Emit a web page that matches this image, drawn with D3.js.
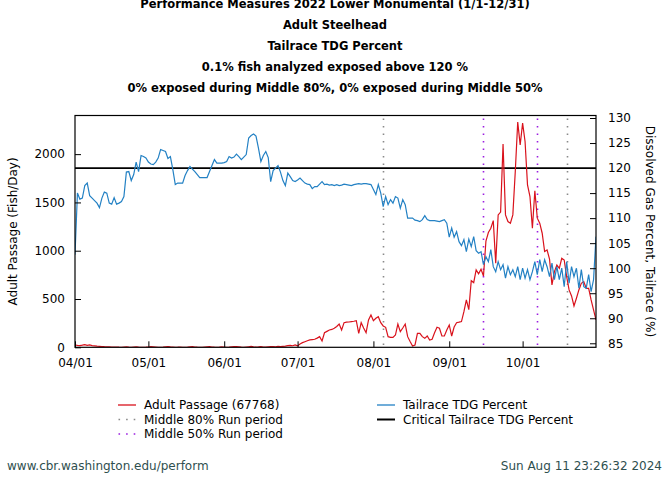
<!DOCTYPE html>
<html><head><meta charset="utf-8">
<script src="https://cdn.jsdelivr.net/npm/d3@7/dist/d3.min.js"></script>
<style>
html,body{margin:0;padding:0;background:#fff;}
svg{display:block;font-family:"DejaVu Sans",sans-serif;}
</style></head>
<body>
<svg id="chart" width="670" height="480"></svg>
<script>
// ---------- data ----------
const startDate = "2022-04-01";   // first day of daily series
const endDate = "2022-10-31";
const titleLines = [
  "Performance Measures 2022 Lower Monumental (1/1-12/31)",
  "Adult Steelhead",
  "Tailrace TDG Percent",
  "0.1% fish analyzed exposed above 120 %",
  "0% exposed during Middle 80%, 0% exposed during Middle 50%"
];
const xTickDates = ["2022-04-01","2022-05-01","2022-06-01","2022-07-01","2022-08-01","2022-09-01","2022-10-01"];
const xTickLabels = ["04/01","05/01","06/01","07/01","08/01","09/01","10/01"];
const leftTicks = [0,500,1000,1500,2000];
const rightTicks = [85,90,95,100,105,110,115,120,125,130];
const criticalTDG = 120;
const middle80 = ["2022-08-05","2022-10-19"];
const middle50 = ["2022-09-15","2022-10-07"];

// Tailrace TDG percent, daily from 04/01
const tailraceTDG = [
102.7,115,113.8,114,116.5,117,114.5,114,113.5,113,112.1,114,115.2,115,113,112.8,114.1,112.8,113,113.3,
114.3,119.2,119.3,117.5,118.7,121.2,119.3,122.5,122.3,122,121.2,120.8,120.7,121.2,122,123.7,123.5,123.3,121.9,122.3,
119.7,116.7,117,117,117,118.5,119.5,120.3,119.8,119.3,118.7,118.1,118.1,118.1,118.1,119.3,120.5,121.7,121,121,
121,121.1,121.3,122.3,122,122.2,122.8,122.3,121.7,122.2,122.7,126,126.5,126.8,126.4,124,121.3,122.5,123.3,122.1,
117.3,119.5,120,120.5,119.2,117.5,116.5,119,118.3,117.5,117.3,117.6,118,117.5,117,116.8,116.7,115.9,116.3,
116.3,116.8,117.3,116.7,116.8,116.6,116.7,116.5,116.7,116.5,116.6,116.8,116.7,116.6,116.5,116.7,116.8,116.9,116.8,116.9,
116.9,116.8,116.7,115.7,114.7,116.7,115,112.3,114.3,112.7,113.7,113,114.3,114,112,113.7,112.7,110,110,110,
109.6,109.5,109.3,109.7,110.5,109.7,109.5,109.5,109.5,109.4,109.3,109.5,109.7,109,106.2,108,106.2,107.3,105.3,104.5,
105.7,103.3,105.8,104.3,106.3,103.5,103,103.3,
100.7,102.3,101.3,103.7,100.3,99.3,101.3,99.7,100.7,98,100.3,98.7,99.7,98.3,100.3,97.7,100,98,99.7,97.7,
99.3,101.3,98.7,101.7,99.3,101.7,100.3,98.3,101,97.7,100.3,97.7,100,96.3,101.3,97,100.3,98.3,100,96,
99.7,96.3,96,98.7,95.3,97.7,106.3
];

// Adult passage (fish/day), daily from 04/01
const adultPassage = [
24,20,18,22,28,20,25,18,15,12,10,8,6,5,4,3,2,3,1,
0,2,4,1,0,3,5,2,0,0,1,3,6,4,2,0,0,1,5,8,4,2,0,1,3,0,0,2,5,7,3,1,0,0,2,4,6,3,1,0,
2,5,3,0,1,4,6,8,5,2,0,3,6,9,5,2,4,7,3,1,5,8,6,4,9,7,10,
12,18,20,16,24,15,35,48,58,68,76,80,83,
95,110,65,151,165,179,185,197,215,241,179,255,260,262,266,270,276,145,255,200,
151,283,335,276,300,317,255,221,207,110,103,103,127,241,162,200,241,110,60,13,
24,145,145,110,93,117,76,83,150,207,197,117,117,180,231,117,210,255,260,266,
369,490,390,690,670,801,760,808,739,1100,1188,1233,1312,870,1371,1400,2104,1371,1302,1285,
1371,1820,2332,2096,2321,2131,1682,1561,1233,1620,1337,1285,1181,991,1008,912,646,784,853,818,
922,904,732,594,532,428,508,594,663,680,611,611,490,387,283
];
const passageTotalLabel = "Adult Passage (67768)";

// ---------- layout ----------
const svg = d3.select("#chart");
const L = 75, R = 596, T = 115.5, B = 347.3;
const parse = d3.utcParse("%Y-%m-%d");
const d0 = parse(startDate);
const dayDate = i => d3.utcDay.offset(d0, i);

const x = d3.scaleUtc().domain([d0, parse(endDate)]).range([L, R]);
const yL = d3.scaleLinear().domain([0, 2400]).range([B, T]);
const yR = d3.scaleLinear().domain([84.2, 130.5]).range([B, T]);

const RED = "#d9121c", BLUE = "#2381c4", GRAY = "#8a8a8a", PURPLE = "#9b1ee0";

// titles
svg.append("g").selectAll("text").data(titleLines).join("text")
  .attr("x", 335).attr("y", (d,i) => 7.5 + i*21)
  .attr("text-anchor","middle").attr("font-size","11.5px").attr("font-weight","bold")
  .attr("fill","#000").text(d => d);

// clip
svg.append("clipPath").attr("id","clip").append("rect")
  .attr("x", L).attr("y", T).attr("width", R-L).attr("height", B-T);

const plot = svg.append("g").attr("clip-path","url(#clip)");

// run period lines
const vlines = [
  ...middle80.map(d => ({d, c: GRAY})),
  ...middle50.map(d => ({d, c: PURPLE}))
];
plot.selectAll("line.run").data(vlines).join("line")
  .attr("class","run")
  .attr("x1", v => Math.round(x(parse(v.d)))+0.5).attr("x2", v => Math.round(x(parse(v.d)))+0.5)
  .attr("y1", T+3).attr("y2", B)
  .attr("stroke", v => v.c).attr("stroke-width", 1.6)
  .attr("stroke-dasharray","1.6 5.9");

// critical line
plot.append("line")
  .attr("x1", L).attr("x2", R)
  .attr("y1", yR(criticalTDG)).attr("y2", yR(criticalTDG))
  .attr("stroke","#000").attr("stroke-width",1.8);

// passage line
plot.append("path").datum(adultPassage)
  .attr("fill","none").attr("stroke",RED).attr("stroke-width",1.2)
  .attr("d", d3.line().x((d,i) => x(dayDate(i))).y(d => yL(d)));

// TDG line
plot.append("path").datum(tailraceTDG)
  .attr("fill","none").attr("stroke",BLUE).attr("stroke-width",1.2)
  .attr("d", d3.line().x((d,i) => x(dayDate(i))).y(d => yR(d)));

// axes
const axFont = g => g.selectAll("text").attr("font-size","12px").attr("font-family","DejaVu Sans").attr("fill","#000");
const gx = svg.append("g").attr("transform",`translate(0,${B})`)
  .call(d3.axisBottom(x).tickValues(xTickDates.map(parse))
    .tickFormat((d,i) => xTickLabels[i]).tickSizeInner(-6).tickSizeOuter(0).tickPadding(11.5));
gx.call(axFont);
const gl = svg.append("g").attr("transform",`translate(${L},0)`)
  .call(d3.axisLeft(yL).tickValues(leftTicks).tickFormat(d3.format("d"))
    .tickSizeInner(-6).tickSizeOuter(0).tickPadding(10));
gl.call(axFont);
const gr = svg.append("g").attr("transform",`translate(${R},0)`)
  .call(d3.axisRight(yR).tickValues(rightTicks).tickFormat(d3.format("d"))
    .tickSizeInner(-6).tickSizeOuter(0).tickPadding(12));
gr.call(axFont);
[gx,gl,gr].forEach(g => { g.select(".domain").remove(); g.selectAll("line").attr("stroke","#000"); });

// frame
svg.append("rect").attr("x",L).attr("y",T).attr("width",R-L).attr("height",B-T)
  .attr("fill","none").attr("stroke","#000").attr("stroke-width",1.2);

// axis titles
svg.append("text").attr("transform",`translate(13,${(T+B)/2}) rotate(-90)`)
  .attr("text-anchor","middle").attr("dominant-baseline","central")
  .attr("font-size","12px").text("Adult Passage (Fish/Day)");
svg.append("text").attr("transform",`translate(650,${(T+B)/2}) rotate(90)`)
  .attr("text-anchor","middle").attr("dominant-baseline","central")
  .attr("font-size","12px").text("Dissolved Gas Percent, Tailrace (%)");

// legend
const legend = [
  {x:118, y:405, type:"solid", c:RED, label: passageTotalLabel},
  {x:118, y:419.5, type:"dot", c:GRAY, label:"Middle 80% Run period"},
  {x:118, y:434, type:"dot", c:PURPLE, label:"Middle 50% Run period"},
  {x:377, y:405, type:"solid", c:BLUE, label:"Tailrace TDG Percent"},
  {x:377, y:419.5, type:"solid", c:"#000", label:"Critical Tailrace TDG Percent", w:2}
];
const lg = svg.append("g").selectAll("g").data(legend).join("g");
lg.filter(d => d.type==="solid").append("line")
  .attr("x1", d => d.x).attr("x2", d => d.x+18).attr("y1", d => d.y).attr("y2", d => d.y)
  .attr("stroke", d => d.c).attr("stroke-width", d => d.w || 1.3);
lg.filter(d => d.type==="dot").append("line")
  .attr("x1", d => d.x+0.5).attr("x2", d => d.x+18).attr("y1", d => d.y).attr("y2", d => d.y)
  .attr("stroke", d => d.c).attr("stroke-width", 1.6).attr("stroke-dasharray","1.6 6");
lg.append("text").attr("x", d => d.x+26).attr("y", d => d.y)
  .attr("dominant-baseline","central").attr("font-size","12px").text(d => d.label);

// footer
svg.append("text").attr("x",7).attr("y",470).attr("font-size","12px").attr("fill","#2f4f4f")
  .text("www.cbr.washington.edu/perform");
svg.append("text").attr("x",662).attr("y",470).attr("text-anchor","end").attr("font-size","12px").attr("fill","#2f4f4f")
  .text("Sun Aug 11 23:26:32 2024");
</script>
</body></html>
